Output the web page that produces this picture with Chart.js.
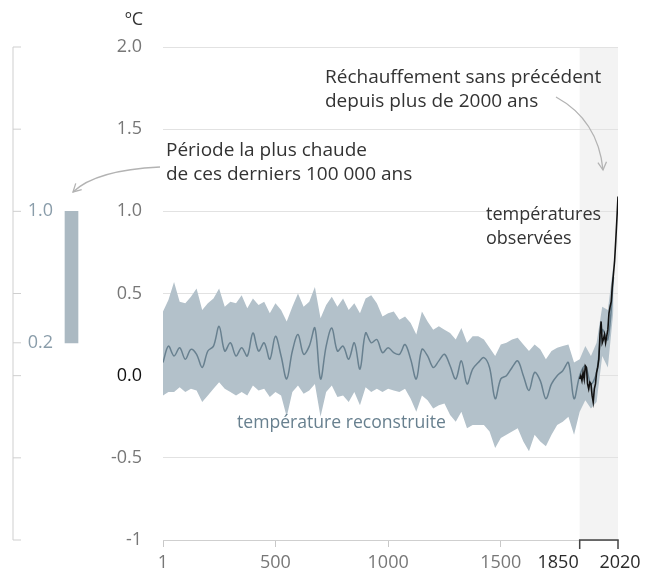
<!DOCTYPE html>
<html>
<head>
<meta charset="utf-8">
<script src="https://cdn.jsdelivr.net/npm/chart.js@4.4.1/dist/chart.umd.min.js"></script>
<style>
  body { margin: 0; background: #fff; }
  #wrap { position: relative; width: 648px; height: 576px; }
  #wrap canvas { position: absolute; left: 0; top: 0; }
</style>
</head>
<body>
<div id="wrap">
  <canvas id="left" width="140" height="576"></canvas>
  <canvas id="main" width="648" height="576"></canvas>
</div>
<script>
// reconstructed temperature (25-year steps), with its uncertainty band
const years = [1, 25, 50, 75, 100, 125, 150, 175, 200, 225, 250, 275, 300, 325, 350, 375, 400, 425, 450, 475,
  500, 525, 550, 575, 600, 625, 650, 675, 700, 725, 750, 775, 800, 825, 850, 875, 900, 925, 950, 975,
  1000, 1025, 1050, 1075, 1100, 1125, 1150, 1175, 1200, 1225, 1250, 1275, 1300, 1325, 1350, 1375, 1400, 1425, 1450, 1475,
  1500, 1525, 1550, 1575, 1600, 1625, 1650, 1675, 1700, 1725, 1750, 1775, 1800, 1825, 1850, 1875, 1900, 1925, 1950, 1975, 2000]
const reconTemp = [0.08, 0.18, 0.12, 0.17, 0.10, 0.16, 0.13, 0.05, 0.15, 0.18, 0.30, 0.15, 0.20, 0.12, 0.17, 0.12, 0.26, 0.15, 0.20, 0.10,
  0.24, 0.12, -0.02, 0.15, 0.25, 0.13, 0.18, 0.29, -0.02, 0.18, 0.29, 0.15, 0.18, 0.10, 0.20, 0.04, 0.26, 0.20, 0.22, 0.14,
  0.17, 0.14, 0.13, 0.19, 0.10, -0.02, 0.16, 0.12, 0.05, 0.09, 0.13, 0.06, -0.02, 0.09, -0.05, 0.04, 0.08, 0.11, 0.05, -0.14,
  -0.02, 0.00, 0.05, 0.09, 0.00, -0.09, 0.02, -0.03, -0.14, -0.05, 0.00, 0.03, 0.08, -0.14, 0.00, 0.06, -0.05, 0.02, 0.28, 0.22, 0.60]
const reconUpper = [0.39, 0.46, 0.57, 0.45, 0.44, 0.48, 0.53, 0.40, 0.44, 0.47, 0.53, 0.42, 0.45, 0.44, 0.49, 0.41, 0.47, 0.43, 0.45, 0.38,
  0.44, 0.40, 0.33, 0.42, 0.50, 0.42, 0.45, 0.54, 0.35, 0.43, 0.48, 0.42, 0.47, 0.40, 0.44, 0.38, 0.47, 0.49, 0.44, 0.36,
  0.38, 0.39, 0.34, 0.36, 0.32, 0.25, 0.39, 0.33, 0.28, 0.30, 0.28, 0.26, 0.22, 0.29, 0.20, 0.24, 0.24, 0.22, 0.17, 0.12,
  0.19, 0.20, 0.22, 0.23, 0.19, 0.15, 0.19, 0.16, 0.10, 0.15, 0.17, 0.18, 0.19, 0.08, 0.10, 0.18, 0.12, 0.20, 0.42, 0.40, 0.68]
const reconLower = [-0.12, -0.10, -0.10, -0.07, -0.10, -0.08, -0.09, -0.16, -0.12, -0.08, -0.04, -0.08, -0.10, -0.12, -0.10, -0.12, -0.06, -0.09, -0.08, -0.13,
  -0.10, -0.12, -0.25, -0.10, -0.06, -0.11, -0.09, -0.05, -0.25, -0.10, -0.06, -0.13, -0.12, -0.16, -0.10, -0.18, -0.07, -0.10, -0.08, -0.10,
  -0.08, -0.09, -0.10, -0.08, -0.14, -0.22, -0.12, -0.15, -0.20, -0.18, -0.17, -0.24, -0.28, -0.22, -0.32, -0.30, -0.30, -0.30, -0.34, -0.44,
  -0.38, -0.36, -0.34, -0.32, -0.40, -0.46, -0.36, -0.40, -0.43, -0.36, -0.30, -0.28, -0.25, -0.36, -0.22, -0.15, -0.20, -0.16, 0.12, 0.05, 0.40]

// observed temperatures since 1850
const obsYears = [1850, 1855, 1860, 1865, 1870, 1875, 1880, 1885, 1890, 1895, 1900, 1905, 1910, 1915, 1920, 1925, 1930, 1935,
  1940, 1945, 1950, 1955, 1960, 1965, 1970, 1975, 1980, 1985, 1990, 1995, 2000, 2005, 2010, 2015, 2020]
const obsTemp = [-0.02, 0.00, -0.03, 0.02, -0.02, 0.06, 0.05, -0.05, -0.08, -0.04, -0.05, -0.12, -0.16, -0.08, -0.05, 0.02, 0.05, 0.10,
  0.25, 0.33, 0.20, 0.22, 0.25, 0.20, 0.24, 0.28, 0.38, 0.42, 0.45, 0.55, 0.62, 0.70, 0.82, 0.95, 1.09]

// warmest period of the last 100 000 years (left bar)
const warmPeriod = [0.2, 1.0]

const xTicks = [1, 500, 1000, 1500, 1850, 2020]
const xBoldTicks = [1850, 2020]
const yTicks = [-1, -0.5, 0, 0.5, 1, 1.5, 2]
const leftTicks = [-1, -0.5, 0, 0.2, 0.5, 1, 1.5, 2]
const leftLabels = [1.0, 0.2]

const FONT = '"Open Sans", "DejaVu Sans", sans-serif'
const bandColor = '#b3c1ca'
const reconColor = '#68808f'

const pts = (xs, ys) => xs.map((x, i) => ({ x: x, y: ys[i] }))

function arrow(ctx, x0, y0, cx, cy, x1, y1) {
    ctx.beginPath()
    ctx.moveTo(x0, y0)
    ctx.quadraticCurveTo(cx, cy, x1, y1)
    ctx.stroke()
    const a = Math.atan2(y1 - cy, x1 - cx)
    ctx.beginPath()
    ctx.moveTo(x1 - 9 * Math.cos(a - 0.5), y1 - 9 * Math.sin(a - 0.5))
    ctx.lineTo(x1, y1)
    ctx.lineTo(x1 - 9 * Math.cos(a + 0.5), y1 - 9 * Math.sin(a + 0.5))
    ctx.stroke()
}

const decor = {
    id: 'decor',
    beforeDraw(chart) {
        const { ctx, chartArea, scales } = chart
        const x0 = scales.x.getPixelForValue(1850)
        const x1 = scales.x.getPixelForValue(2020)
        ctx.save()
        ctx.fillStyle = '#f3f3f3'
        ctx.fillRect(x0, chartArea.top, x1 - x0, chartArea.bottom - chartArea.top)
        ctx.restore()
    },
    afterDraw(chart) {
        const { ctx, chartArea, scales } = chart
        ctx.save()
        // 1850-2020 bracket
        const x0 = scales.x.getPixelForValue(1850)
        const x1 = scales.x.getPixelForValue(2020)
        ctx.strokeStyle = '#444'
        ctx.lineWidth = 1.5
        ctx.beginPath()
        ctx.moveTo(x0, chartArea.bottom + 9)
        ctx.lineTo(x0, chartArea.bottom)
        ctx.lineTo(x1, chartArea.bottom)
        ctx.lineTo(x1, chartArea.bottom + 9)
        ctx.stroke()

        // labels of the bracket
        ctx.font = '18px ' + FONT
        ctx.fillStyle = '#2a2a2a'
        ctx.textBaseline = 'middle'
        const ly = chartArea.bottom + 7 + 5 + 10.8
        ctx.textAlign = 'right'
        ctx.fillText(String(xBoldTicks[0]), x0 - 1, ly)
        ctx.textAlign = 'center'
        ctx.fillText(String(xBoldTicks[1]), x1 + 2, ly)

        ctx.textBaseline = 'alphabetic'
        // unit
        ctx.fillStyle = '#333'
        ctx.textAlign = 'right'
        ctx.fillText('ºC', 143, 25)

        ctx.textAlign = 'left'
        ctx.font = '19px ' + FONT
        ctx.fillText('Réchauffement sans précédent', 325, 83)
        ctx.fillText('depuis plus de 2000 ans', 325, 107)
        ctx.fillText('Période la plus chaude', 166, 156)
        ctx.fillText('de ces derniers 100 000 ans', 166, 180)
        ctx.font = '18px ' + FONT
        ctx.fillText('températures', 486, 220)
        ctx.fillText('observées', 486, 244)
        ctx.fillStyle = reconColor
        ctx.font = '17.6px ' + FONT
        ctx.fillText('température reconstruite', 237, 428)

        // arrows
        ctx.strokeStyle = '#b3b3b3'
        ctx.lineWidth = 1.3
        arrow(ctx, 160, 167, 96, 170, 73, 192)
        arrow(ctx, 556, 97, 598, 120, 603, 170)
        ctx.restore()
    }
}

const leftAxis = {
    id: 'leftAxis',
    afterDraw(chart) {
        const { ctx, chartArea, scales } = chart
        const y = scales.y
        const x = chartArea.left
        ctx.save()
        ctx.strokeStyle = '#cfcfcf'
        ctx.lineWidth = 1
        ctx.beginPath()
        ctx.moveTo(x, y.getPixelForValue(2))
        ctx.lineTo(x, y.getPixelForValue(-1))
        leftTicks.forEach(v => {
            ctx.moveTo(x, y.getPixelForValue(v))
            ctx.lineTo(x + 8, y.getPixelForValue(v))
        })
        ctx.stroke()
        ctx.font = '18px ' + FONT
        ctx.fillStyle = '#8a9daa'
        ctx.textAlign = 'right'
        ctx.textBaseline = 'middle'
        leftLabels.forEach(v => ctx.fillText(v.toFixed(1), x + 40, y.getPixelForValue(v)))
        ctx.restore()
    }
}

function draw() {
    new Chart(document.getElementById('left'), {
        type: 'bar',
        data: {
            labels: ['période chaude'],
            datasets: [{ data: [warmPeriod], backgroundColor: '#abb9c2', borderWidth: 0, barThickness: 13 }]
        },
        options: {
            responsive: false,
            animation: false,
            layout: { padding: { left: 13, right: 10, top: 47, bottom: 36 } },
            scales: {
                x: { display: false },
                y: { display: false, min: -1, max: 2 }
            },
            plugins: { legend: { display: false }, tooltip: { enabled: false } }
        },
        plugins: [leftAxis]
    })

    new Chart(document.getElementById('main'), {
        type: 'line',
        data: {
            datasets: [
                { data: pts(years, reconUpper), borderWidth: 0, pointRadius: 0, fill: '+1', backgroundColor: bandColor, order: 3 },
                { data: pts(years, reconLower), borderWidth: 0, pointRadius: 0, fill: false, order: 4 },
                { data: pts(years, reconTemp), borderColor: reconColor, borderWidth: 1.5, pointRadius: 0, fill: false, tension: 0.35, order: 2 },
                { data: pts(obsYears, obsTemp), borderColor: '#111', borderWidth: 1.6, pointRadius: 0, fill: false, order: 1 }
            ]
        },
        options: {
            responsive: false,
            animation: false,
            layout: { padding: { top: 47, right: 30, left: 0, bottom: 0 } },
            scales: {
                x: {
                    type: 'linear',
                    min: 1,
                    max: 2020,
                    afterBuildTicks: s => { s.ticks = xTicks.map(v => ({ value: v })) },
                    afterFit: s => { s.height = 36 },
                    grid: {
                        drawOnChartArea: false,
                        tickLength: 7,
                        color: c => (c.tick && xBoldTicks.includes(c.tick.value)) ? 'rgba(0,0,0,0)' : '#c8c8c8'
                    },
                    border: { color: '#cfcfcf' },
                    ticks: {
                        autoSkip: false,
                        maxRotation: 0,
                        padding: 5,
                        font: { family: FONT, size: 18 },
                        color: '#777',
                        callback: v => xBoldTicks.includes(v) ? '' : String(v)
                    }
                },
                y: {
                    min: -1,
                    max: 2,
                    afterBuildTicks: s => { s.ticks = yTicks.map(v => ({ value: v })) },
                    afterFit: s => { s.width = 163 },
                    grid: {
                        drawTicks: false,
                        color: c => c.tick.value === -1 ? 'rgba(0,0,0,0)' : '#e2e2e2'
                    },
                    border: { display: false },
                    ticks: {
                        padding: 21,
                        font: { family: FONT, size: 18 },
                        color: c => c.tick.value === 0 ? '#111' : '#777',
                        callback: v => v === -1 ? '-1' : v.toFixed(1)
                    }
                }
            },
            plugins: { legend: { display: false }, tooltip: { enabled: false } }
        },
        plugins: [decor]
    })
}

document.fonts.load('18px "Open Sans"').then(draw, draw)
</script>
</body>
</html>
